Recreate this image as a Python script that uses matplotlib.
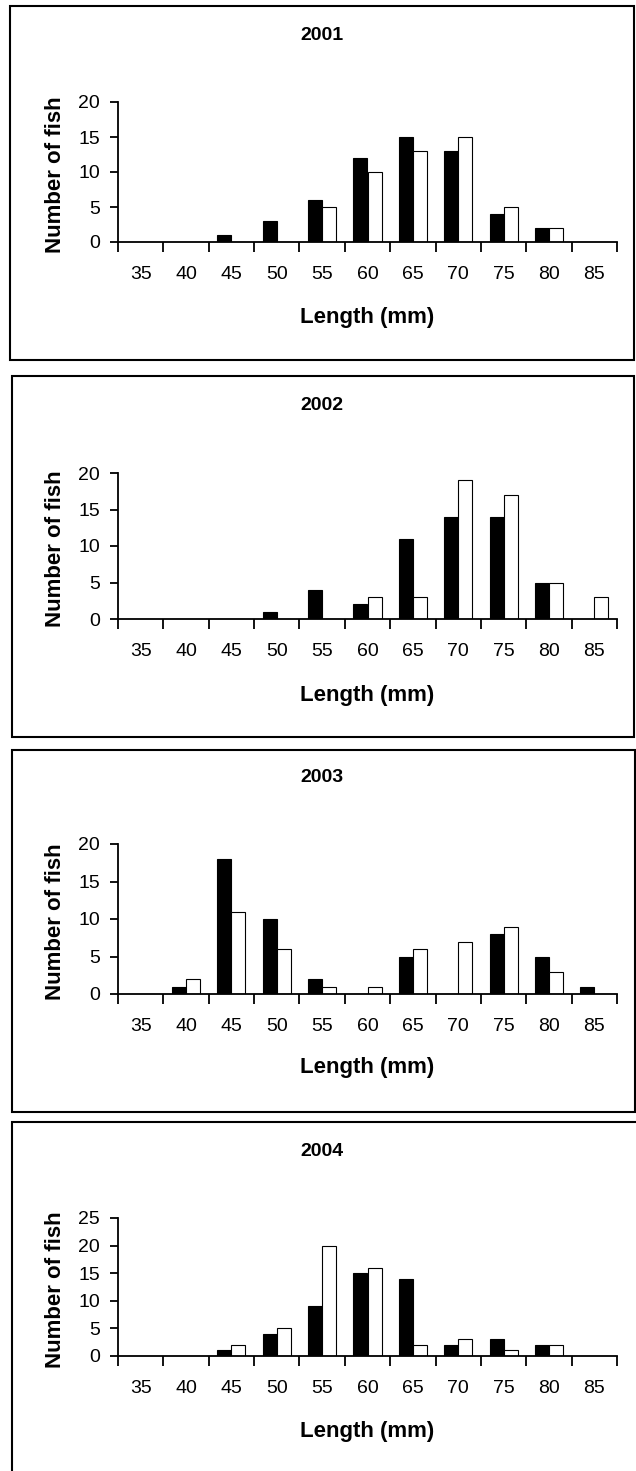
import numpy as np
import matplotlib
matplotlib.use("Agg")
import matplotlib.pyplot as plt
from matplotlib.patches import Rectangle

plt.rcParams['font.family'] = ['Liberation Sans', 'DejaVu Sans']

lengths = ["35", "40", "45", "50", "55", "60", "65", "70", "75", "80", "85"]
years = ["2001", "2002", "2003", "2004"]

black_2001 = [0, 0, 1, 3, 6, 12, 15, 13, 4, 2, 0]
white_2001 = [0, 0, 0, 0, 5, 10, 13, 15, 5, 2, 0]
black_2002 = [0, 0, 0, 1, 4, 2, 11, 14, 14, 5, 0]
white_2002 = [0, 0, 0, 0, 0, 3, 3, 19, 17, 5, 3]
black_2003 = [0, 1, 18, 10, 2, 0, 5, 0, 8, 5, 1]
white_2003 = [0, 2, 11, 6, 1, 1, 6, 7, 9, 3, 0]
black_2004 = [0, 0, 1, 4, 9, 15, 14, 2, 3, 2, 0]
white_2004 = [0, 0, 2, 5, 20, 16, 2, 3, 1, 2, 0]

blacks = [black_2001, black_2002, black_2003, black_2004]
whites = [white_2001, white_2002, white_2003, white_2004]
ymax = [20, 20, 20, 25]

W, H = 636, 1471
fig = plt.figure(figsize=(W / 100, H / 100), dpi=100)

# pixel layout of each panel: (y of top tick, y of zero line), frame, title y, xlabel y
axis_px = [(102, 242), (473, 619), (844, 994), (1218, 1356)]
frames = [(10, 6, 634, 360), (12, 376, 634, 737), (12, 750, 635, 1112), (12, 1122, 640, 1480)]
title_y = [35, 406, 778, 1152]
xlab_y = [317, 695, 1068, 1432]

x0, x1 = 118, 617
bw = 0.31
idx = np.arange(len(lengths))

for i in range(4):
    fx0, fy0, fx1, fy1 = frames[i]
    fig.patches.append(Rectangle((fx0 / W, 1 - fy1 / H), (fx1 - fx0) / W, (fy1 - fy0) / H,
                                 transform=fig.transFigure, fill=False,
                                 edgecolor='black', linewidth=1.5))

    top, bot = axis_px[i]
    ax = fig.add_axes([x0 / W, 1 - bot / H, (x1 - x0) / W, (bot - top) / H])
    ax.bar(idx - bw / 2, blacks[i], width=bw, color='black', edgecolor='black', linewidth=0.8)
    ax.bar(idx + bw / 2, whites[i], width=bw, color='white', edgecolor='black', linewidth=0.8)

    ax.set_xlim(-0.5, len(lengths) - 0.5)
    ax.set_ylim(0, ymax[i])
    ax.set_yticks(np.arange(0, ymax[i] + 1, 5))
    ax.set_xticks(idx)
    ax.set_xticklabels(lengths)
    ax.set_xticks(np.arange(-0.5, len(lengths)), minor=True)
    ax.tick_params(axis='x', which='major', length=0, pad=17, labelsize=14)
    ax.tick_params(axis='x', which='minor', length=7, width=1.3, direction='out')
    ax.tick_params(axis='y', length=6, width=1.3, direction='out', pad=7, labelsize=14)

    for s in ['top', 'right']:
        ax.spines[s].set_visible(False)
    for s in ['left', 'bottom']:
        ax.spines[s].set_linewidth(1.3)

    ax.set_ylabel('Number of fish', fontsize=16, fontweight='bold')
    ax.yaxis.set_label_coords(-0.105, 0.48)

    fig.text(322 / W, 1 - title_y[i] / H, years[i], ha='center', va='center',
             fontsize=14, fontweight='bold')
    fig.text((x0 + x1) / 2 / W, 1 - xlab_y[i] / H, 'Length (mm)', ha='center', va='center',
             fontsize=16, fontweight='bold')

plt.savefig('out.png', dpi=100)
